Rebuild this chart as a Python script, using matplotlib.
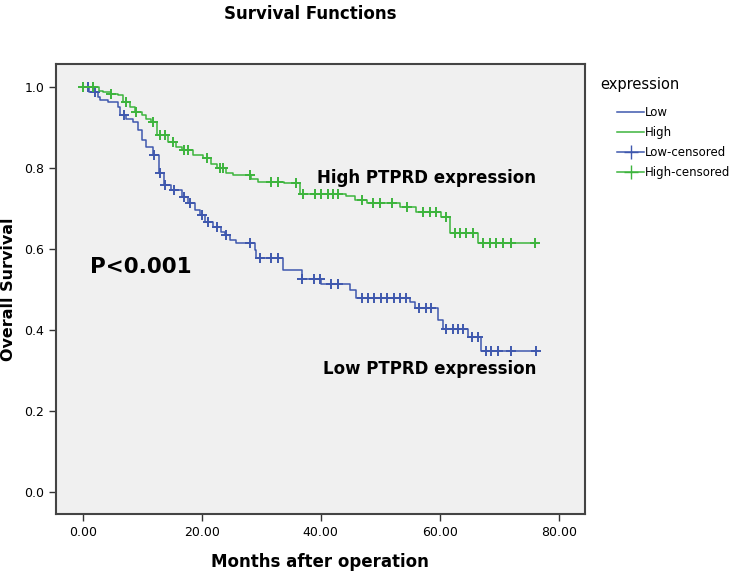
import numpy as np
import matplotlib
matplotlib.use("Agg")
import matplotlib.pyplot as plt
from matplotlib.lines import Line2D

# step curves: event times and survival after each step
low_times = [0, 1.0, 2.5, 2.9, 4.2, 5.9, 6.2, 7.3, 8.5, 9.3, 9.9, 10.7, 11.8, 12.8, 13.7, 14.9,
             16.6, 17.7, 18.8, 19.7, 20.5, 21.9, 23.3, 23.9, 24.7, 25.8, 28.9, 29.2, 33.7,
             36.9, 40.1, 44.9, 46.0, 55.0, 55.8, 59.7, 60.6, 64.8, 67.0]
low_surv = [1.0, 0.988, 0.975, 0.968, 0.964, 0.951, 0.931, 0.922, 0.914, 0.894, 0.869, 0.853,
            0.832, 0.787, 0.758, 0.746, 0.729, 0.713, 0.696, 0.684, 0.667, 0.655, 0.643, 0.635,
            0.622, 0.614, 0.598, 0.577, 0.548, 0.526, 0.515, 0.499, 0.478, 0.470, 0.455, 0.425,
            0.402, 0.383, 0.348]
low_cens = [0.9, 2.0, 6.9, 11.9, 13.0, 13.9, 15.4, 17.0, 18.0, 20.0, 21.0, 22.5, 24.0, 28.1,
            29.8, 31.7, 32.8, 36.9, 38.8, 39.8, 41.8, 42.9, 47.0, 48.0, 49.0, 50.2, 51.2, 52.3,
            53.4, 54.4, 56.6, 57.7, 58.6, 61.1, 62.2, 63.1, 63.9, 65.5, 66.5, 67.8, 68.7, 69.8,
            72.0, 76.2]

high_times = [0, 2.8, 3.4, 4.8, 5.9, 6.8, 7.9, 8.7, 9.9, 10.7, 11.5, 12.4, 14.3, 15.7, 16.6,
              18.5, 20.2, 21.6, 22.5, 24.1, 25.3, 28.3, 29.5, 33.9, 36.5, 44.3, 45.7, 47.7,
              53.3, 56.1, 60.3, 61.7, 66.4]
high_surv = [1.0, 0.99, 0.988, 0.984, 0.98, 0.964, 0.951, 0.939, 0.931, 0.922, 0.914, 0.881,
             0.865, 0.853, 0.844, 0.832, 0.824, 0.811, 0.799, 0.789, 0.783, 0.774, 0.766,
             0.762, 0.737, 0.73, 0.721, 0.713, 0.703, 0.692, 0.68, 0.639, 0.616]
high_cens = [0.0, 1.7, 4.8, 7.3, 8.9, 11.8, 13.0, 13.8, 15.1, 17.0, 17.7, 20.8, 23.0, 23.6,
             28.1, 31.7, 32.8, 35.9, 37.0, 39.0, 40.1, 41.2, 42.1, 42.9, 46.9, 48.8, 49.9,
             51.9, 54.5, 57.2, 58.3, 59.4, 61.0, 62.5, 63.4, 64.5, 65.6, 67.3, 68.4, 69.5,
             70.6, 72.0, 76.0]

low_end = 76.2
high_end = 76.0

BLUE = "#3F58AE"
GREEN = "#3DB43D"


def surv_at(times, surv, t):
    idx = np.searchsorted(times, t, side="right") - 1
    return surv[max(idx, 0)]


fig = plt.figure(figsize=(7.45, 5.79), dpi=100)
ax = fig.add_axes([0.0752, 0.1123, 0.7098, 0.7772])
ax.set_facecolor("#F0F0F0")

for times, surv, cens, end, col in [(low_times, low_surv, low_cens, low_end, BLUE),
                                    (high_times, high_surv, high_cens, high_end, GREEN)]:
    xs = list(times) + [end]
    ys = list(surv) + [surv[-1]]
    ax.step(xs, ys, where="post", color=col, lw=1.1)
    cy = [surv_at(times, surv, c) for c in cens]
    ax.plot(cens, cy, ls="none", marker="+", ms=6.5, mew=1.4, color=col)

ax.set_xlim(-4.5, 84.4)
ax.set_ylim(-0.054, 1.057)
ax.set_xticks([0, 20, 40, 60, 80])
ax.set_xticklabels(["0.00", "20.00", "40.00", "60.00", "80.00"])
ax.set_yticks([0.0, 0.2, 0.4, 0.6, 0.8, 1.0])
ax.set_yticklabels(["0.0", "0.2", "0.4", "0.6", "0.8", "1.0"])
ax.tick_params(direction="out", length=5, width=1, colors="#333333", labelsize=9, labelcolor="black")
for s in ax.spines.values():
    s.set_color("#444444")
    s.set_linewidth(1.5)

ax.set_xlabel("Months after operation", fontsize=12, fontweight="bold", labelpad=10)
ax.set_ylabel("Overall Survival", fontsize=11.5, fontweight="bold")
ax.yaxis.set_label_coords(-0.076, 0.5)
fig.text(0.416, 0.975, "Survival Functions", ha="center", va="center", fontsize=12, fontweight="bold")

ax.text(76.2, 0.775, "High PTPRD expression", ha="right", va="center", fontsize=12, fontweight="bold")
ax.text(76.2, 0.305, "Low PTPRD expression", ha="right", va="center", fontsize=12, fontweight="bold")
ax.text(1.2, 0.555, "P<0.001", ha="left", va="center", fontsize=15.5, fontweight="bold")

handles = [Line2D([], [], color=BLUE, lw=1.1),
           Line2D([], [], color=GREEN, lw=1.1),
           Line2D([], [], color=BLUE, lw=1.1, marker="+", ms=10),
           Line2D([], [], color=GREEN, lw=1.1, marker="+", ms=10)]
fig.text(640 / 745, 1 - 84 / 579, "expression", ha="center", va="center", fontsize=10.5)
fig.legend(handles, ["Low", "High", "Low-censored", "High-censored"],
           loc="upper left", bbox_to_anchor=(617 / 745, 1 - 106 / 579), frameon=False,
           fontsize=8.5, handlelength=2.3, handletextpad=0.1, labelspacing=0.6,
           borderpad=0, borderaxespad=0)

fig.savefig("out.png", dpi=100)
